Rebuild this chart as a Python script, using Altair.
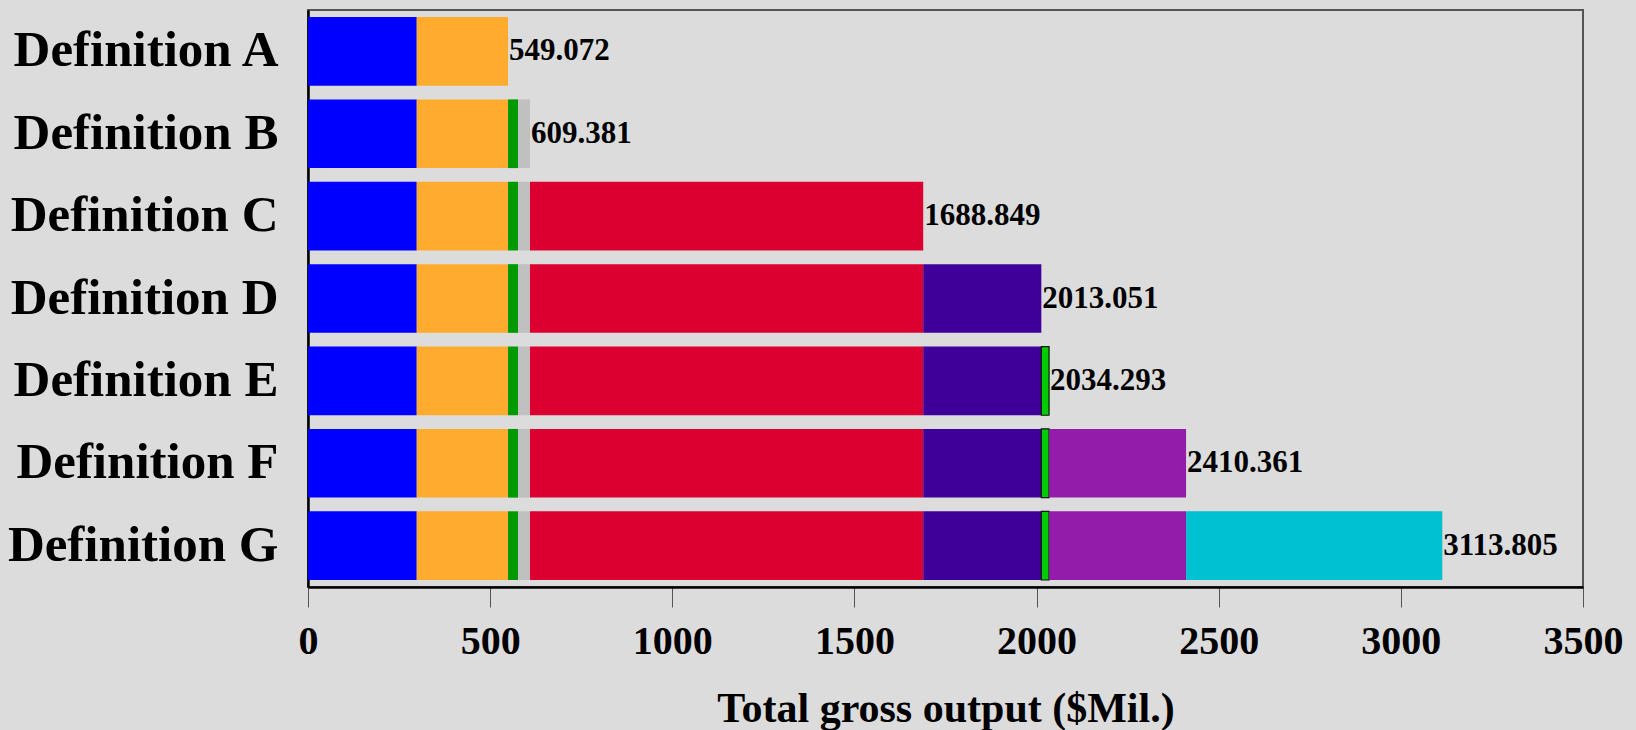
import altair as alt
import pandas as pd

# Definitions (rows, top to bottom)
definitions = ["Definition A", "Definition B", "Definition C", "Definition D",
               "Definition E", "Definition F", "Definition G"]

# Stacked components of gross output ($Mil.), in stacking order
parts = ["Part 1", "Part 2", "Part 3", "Part 4", "Part 5",
         "Part 6", "Part 7", "Part 8", "Part 9"]
part_values = [298.5, 250.572, 27.5, 32.809, 1079.468,
               324.202, 21.242, 376.068, 703.444]
part_colors = ["#0000FF", "#FFAB2E", "#009900", "#C0C0C0", "#DB0030",
               "#3F0099", "#00CC00", "#931CAB", "#00C1CF"]

# Number of components included in each definition
parts_included = [2, 4, 5, 6, 7, 8, 9]

# Totals printed next to each bar
totals = [549.072, 609.381, 1688.849, 2013.051, 2034.293, 2410.361, 3113.805]

rows = []
for d, n in zip(definitions, parts_included):
    start = 0.0
    for p, v in zip(parts[:n], part_values[:n]):
        rows.append({"definition": d, "part": p, "start": start, "end": start + v,
                     "outlined": p == "Part 7"})
        start += v
bars_df = pd.DataFrame(rows)
totals_df = pd.DataFrame({"definition": definitions, "total": totals,
                          "label": [f"{t:.3f}" for t in totals]})

FONT = "Liberation Serif"

y_enc = alt.Y("definition:N", sort=definitions,
              scale=alt.Scale(paddingInner=0.166, paddingOuter=0.085),
              axis=alt.Axis(title=None, ticks=False, labelPadding=30, labelLimit=0,
                            labelFont=FONT, labelFontSize=51, labelFontWeight="bold",
                            labelColor="black", domainColor="black", domainWidth=2.5))

x_scale = alt.Scale(domain=[0, 3500], nice=False, zero=True)
x_axis = alt.Axis(title="Total gross output ($Mil.)", values=list(range(0, 3501, 500)),
                  format="d", grid=False, tickSize=20, tickColor="#555555", tickWidth=1,
                  domainColor="black", domainWidth=2.5, labelFlush=False,
                  labelFont=FONT, labelFontSize=40, labelFontWeight="bold",
                  labelColor="black", labelBaseline="alphabetic", labelPadding=46,
                  titleFont=FONT, titleFontSize=42, titleFontWeight="bold",
                  titleColor="black", titleBaseline="alphabetic", titleY=134)

bars = alt.Chart(bars_df).mark_bar().encode(
    x=alt.X("start:Q", scale=x_scale, axis=x_axis),
    x2="end:Q",
    y=y_enc,
    color=alt.Color("part:N", scale=alt.Scale(domain=parts, range=part_colors), legend=None),
    stroke=alt.condition(alt.datum.outlined, alt.value("#111111"), alt.value("transparent")),
    strokeWidth=alt.condition(alt.datum.outlined, alt.value(1.2), alt.value(0)),
)

labels = alt.Chart(totals_df).mark_text(
    align="left", baseline="middle", dx=1, font=FONT, fontSize=31,
    fontWeight="bold", color="black"
).encode(
    x=alt.X("total:Q", scale=x_scale),
    y=alt.Y("definition:N", sort=definitions),
    text="label:N",
)

chart = (bars + labels).properties(
    width=1275, height=577,
    background="#DCDCDC",
    autosize=alt.AutoSizeParams(type="none"),
    padding={"left": 308, "top": 10, "right": 53, "bottom": 143},
).configure_view(stroke="#555555", strokeWidth=2)

chart.save("out.html", embed_options={"renderer": "svg", "actions": False})
